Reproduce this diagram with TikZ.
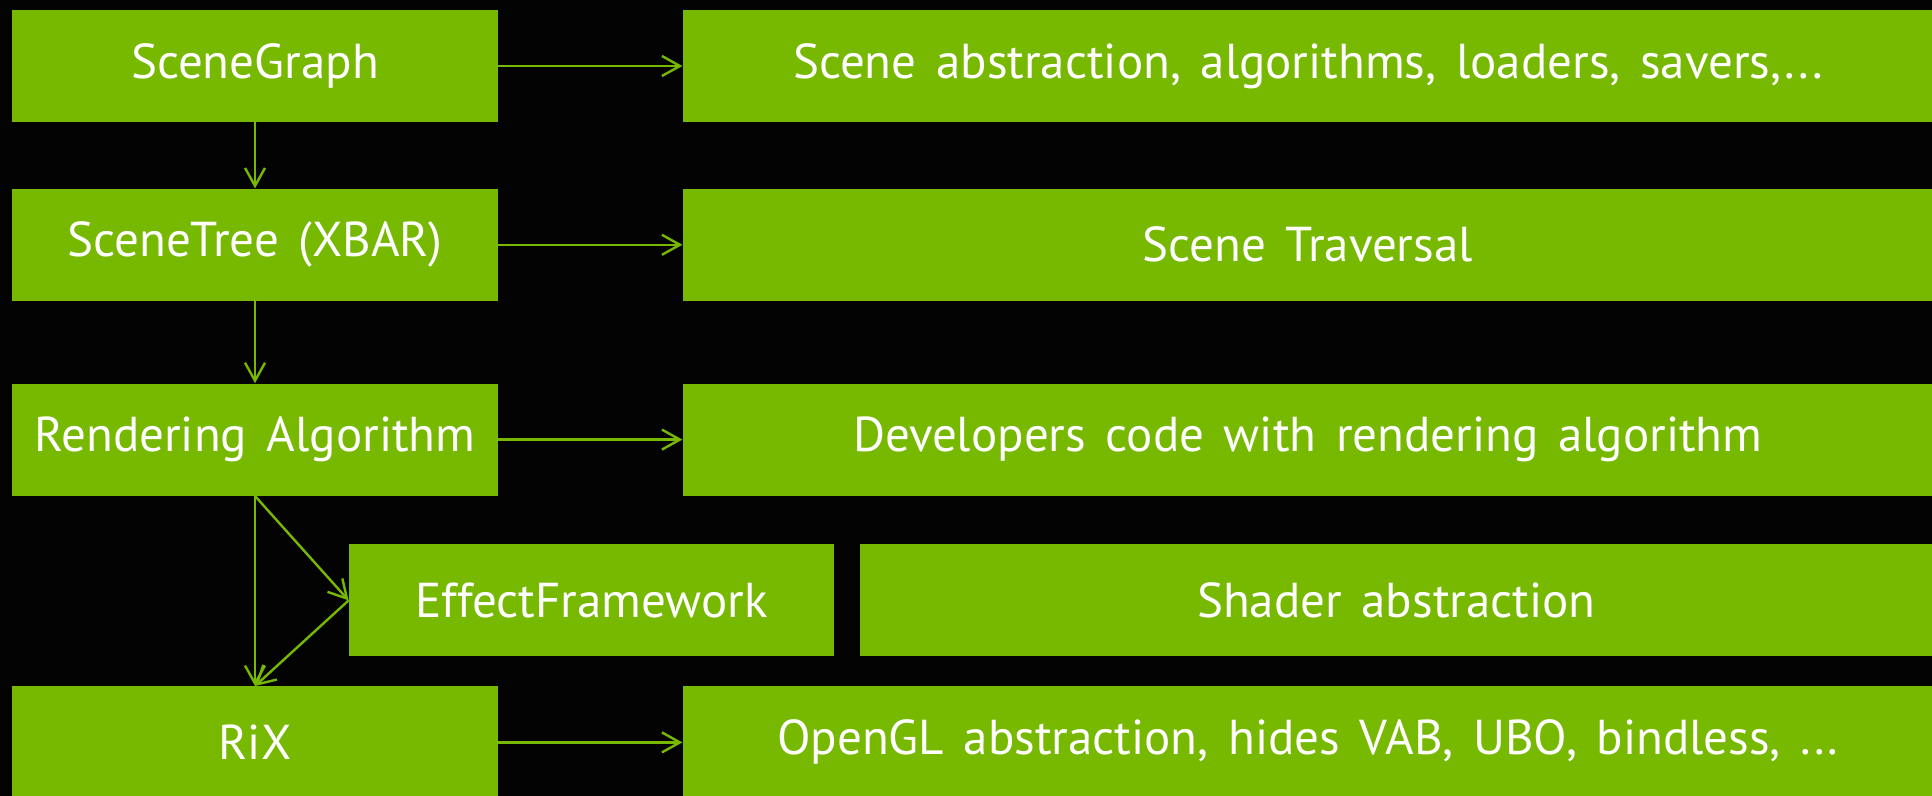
\documentclass[tikz,border=0pt]{standalone}
\usepackage{fontspec}
\setsansfont[WordSpace=1.5]{PT Sans}
\usetikzlibrary{positioning, arrows.meta, calc}
\definecolor{nvgreen}{HTML}{76B900}
\definecolor{bgblack}{HTML}{030303}

\begin{document}
\begin{tikzpicture}[
    font=\sffamily\fontsize{24.5}{29}\selectfont,
    >={Straight Barb[length=9pt, width=10pt]},
    node distance=33pt and 92pt,
    % Layer boxes (left column)
    layer/.style={
        rectangle, fill=nvgreen, text=white,
        minimum width=243pt, minimum height=56pt,
        inner sep=0pt, align=center
    },
    % Description boxes (right column)
    desc/.style={
        layer, minimum width=625pt
    },
    % Arrow style
    arrow/.style={->, draw=nvgreen, line width=1.2pt}
]

% Background
\fill[bgblack] (0pt,0pt) rectangle (966pt,-398pt);
\useasboundingbox (0pt,0pt) rectangle (966pt,-398pt);

% Layer nodes (left column)
\node[layer] (sg) at (127.5pt,-33pt) {SceneGraph};
\node[layer, below=of sg] (st) {SceneTree (XBAR)};
\node[layer, below=41pt of st] (ra) {Rendering Algorithm};
\node[layer, below=95pt of ra] (rix) {RiX};

% Effect framework (offset row)
\node[layer, minimum width=242.5pt, anchor=north west] (ef)
    at ($(ra.south west)+(168.5pt,-24pt)$) {EffectFramework};

% Description nodes (right column)
\node[desc, right=of sg] (sgd) {Scene abstraction, algorithms, loaders, savers,...};
\node[desc, right=of st] (std) {Scene Traversal};
\node[desc, right=of ra] (rad) {Developers code with rendering algorithm};
\node[desc, minimum width=536.5pt, right=12.5pt of ef] (efd) {Shader abstraction};
\node[desc, right=of rix] (rixd) {OpenGL abstraction, hides VAB, UBO, bindless, ...};

% Arrows down the stack
\draw[arrow] (sg) -- (st);
\draw[arrow] (st) -- (ra);
\draw[arrow] (ra) -- (rix);
\draw[arrow] (ra.south) -- (ef.west);
\draw[arrow] (ef.west) -- (rix.north);

% Arrows to descriptions
\draw[arrow] (sg) -- (sgd);
\draw[arrow] (st) -- (std);
\draw[arrow] (ra) -- (rad);
\draw[arrow] (rix) -- (rixd);

\end{tikzpicture}
\end{document}
